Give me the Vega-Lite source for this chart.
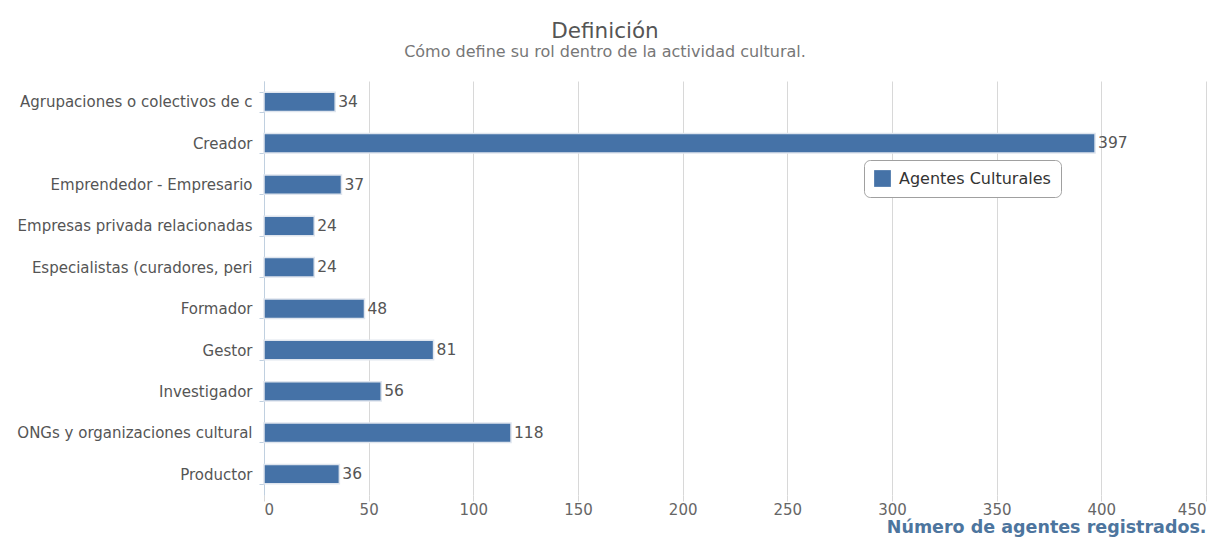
{
  "$schema": "https://vega.github.io/schema/vega-lite/v6.json",
  "width": 942,
  "height": 414,
  "autosize": "none",
  "padding": {"left": 264, "top": 81, "right": 5, "bottom": 50},
  "background": "white",
  "config": {
    "font": "DejaVu Sans",
    "view": {"stroke": null}
  },
  "title": {
    "text": "Definición",
    "subtitle": "Cómo define su rol dentro de la actividad cultural.",
    "anchor": "middle",
    "dx": -130,
    "offset": 14,
    "font": "DejaVu Sans",
    "fontSize": 21.5,
    "fontWeight": "normal",
    "color": "#555555",
    "subtitleFont": "DejaVu Sans",
    "subtitleFontSize": 16,
    "subtitleColor": "#777777",
    "subtitlePadding": 2
  },
  "data": {
    "values": [
      {"categoria": "Agrupaciones o colectivos de c", "agentes": 34, "serie": "Agentes Culturales"},
      {"categoria": "Creador", "agentes": 397, "serie": "Agentes Culturales"},
      {"categoria": "Emprendedor - Empresario", "agentes": 37, "serie": "Agentes Culturales"},
      {"categoria": "Empresas privada relacionadas", "agentes": 24, "serie": "Agentes Culturales"},
      {"categoria": "Especialistas (curadores, peri", "agentes": 24, "serie": "Agentes Culturales"},
      {"categoria": "Formador", "agentes": 48, "serie": "Agentes Culturales"},
      {"categoria": "Gestor", "agentes": 81, "serie": "Agentes Culturales"},
      {"categoria": "Investigador", "agentes": 56, "serie": "Agentes Culturales"},
      {"categoria": "ONGs y organizaciones cultural", "agentes": 118, "serie": "Agentes Culturales"},
      {"categoria": "Productor", "agentes": 36, "serie": "Agentes Culturales"}
    ]
  },
  "encoding": {
    "y": {
      "field": "categoria",
      "type": "nominal",
      "sort": null,
      "scale": {"paddingInner": 0.53, "paddingOuter": 0.27},
      "axis": {
        "title": null,
        "labelFont": "DejaVu Sans",
        "labelFontSize": 15,
        "labelColor": "#555555",
        "labelPadding": 7,
        "labelLimit": 270,
        "domainColor": "#C0D0E0",
        "tickColor": "#C0D0E0",
        "tickBand": "extent",
        "tickSize": 5,
        "grid": false
      }
    },
    "x": {
      "field": "agentes",
      "type": "quantitative",
      "scale": {"domain": [0, 450], "nice": false},
      "axis": {
        "values": [0, 50, 100, 150, 200, 250, 300, 350, 400, 450],
        "title": "Número de agentes registrados.",
        "titleAnchor": "end",
        "titleAlign": "right",
        "titleFont": "DejaVu Sans",
        "titleFontSize": 17.5,
        "titleFontWeight": "bold",
        "titleColor": "#4d759e",
        "titlePadding": 1,
        "labelFont": "DejaVu Sans",
        "labelFontSize": 15,
        "labelColor": "#666666",
        "labelPadding": 1,
        "labelFlush": true,
        "domain": false,
        "grid": true,
        "gridColor": "#D8D8D8",
        "gridWidth": 1,
        "tickColor": "#D8D8D8",
        "tickSize": 6
      }
    }
  },
  "layer": [
    {
      "mark": {"type": "bar", "stroke": "#dfe5ee", "strokeWidth": 1.5},
      "encoding": {
        "color": {
          "field": "serie",
          "type": "nominal",
          "scale": {"range": ["#4572A7"]},
          "legend": {
            "title": null,
            "orient": "none",
            "legendX": 600,
            "legendY": 79,
            "fillColor": "white",
            "strokeColor": "#A0A0A0",
            "cornerRadius": 6,
            "padding": 10,
            "symbolType": "square",
            "symbolSize": 280,
            "symbolStrokeWidth": 0,
            "labelFont": "DejaVu Sans",
            "labelFontSize": 16,
            "labelColor": "#333333",
            "labelOffset": 8
          }
        }
      }
    },
    {
      "mark": {"type": "text", "align": "left", "baseline": "middle", "dx": 3, "fontSize": 15.5, "color": "#555555", "font": "DejaVu Sans"},
      "encoding": {
        "text": {"field": "agentes", "type": "quantitative"}
      }
    }
  ]
}
